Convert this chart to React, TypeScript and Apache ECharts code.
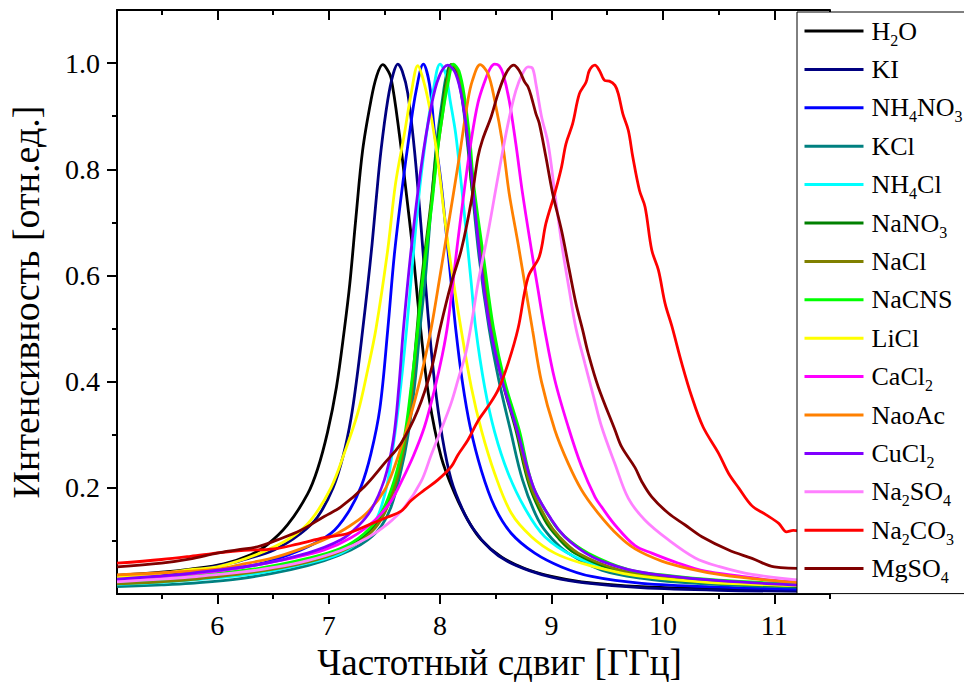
import React, { useEffect, useRef } from 'react';
import * as echarts from 'echarts';

const FONT = 'Liberation Serif';

const seriesNames = ['H2O', 'KI', 'NH4NO3', 'KCl', 'NH4Cl', 'NaNO3', 'NaCl', 'NaCNS', 'LiCl', 'CaCl2', 'NaoAc', 'CuCl2', 'Na2SO4', 'Na2CO3', 'MgSO4'];
const seriesColors = ['#000000', '#000080', '#0000FF', '#008080', '#00FFFF', '#008000', '#808000', '#00FF00', '#FFFF00', '#FF00FF', '#FF8000', '#8000FF', '#FF80FF', '#FF0000', '#800000'];

const xMajorTicks = [6, 7, 8, 9, 10, 11];
const xMinorTicks = [5.5, 6.5, 7.5, 8.5, 9.5, 10.5, 11.5];
const yMajorTicks = [0.2, 0.4, 0.6, 0.8, 1.0];
const yMinorTicks = [0.1, 0.3, 0.5, 0.7, 0.9];

const h2oData = [[5.1,0.035],[5.5,0.041],[5.76,0.047],[6.06,0.057],[6.3,0.074],[6.45,0.093],[6.63,0.13],[6.81,0.188],[6.9,0.235],[6.99,0.305],[7.07,0.39],[7.14,0.497],[7.19,0.585],[7.245,0.71],[7.305,0.836],[7.38,0.93],[7.43,0.975],[7.485,0.997],[7.52,0.99],[7.56,0.972],[7.634,0.867],[7.694,0.76],[7.755,0.648],[7.82,0.51],[7.9,0.37],[8.01,0.258],[8.13,0.19],[8.25,0.139],[8.37,0.102],[8.55,0.07],[8.76,0.048],[9.0,0.033],[9.27,0.023],[9.81,0.014],[10.5,0.01],[11.3,0.007]];
const kiData = [[5.1,0.03],[5.5,0.037],[5.76,0.044],[6.0,0.053],[6.21,0.063],[6.51,0.083],[6.75,0.114],[6.9,0.145],[7.04,0.2],[7.13,0.26],[7.2,0.33],[7.255,0.41],[7.305,0.497],[7.35,0.58],[7.39,0.66],[7.425,0.74],[7.47,0.836],[7.53,0.93],[7.58,0.98],[7.62,0.998],[7.66,0.985],[7.71,0.943],[7.77,0.836],[7.83,0.69],[7.89,0.53],[7.95,0.4],[8.02,0.295],[8.1,0.215],[8.2,0.16],[8.3,0.122],[8.45,0.085],[8.6,0.062],[8.8,0.044],[9.0,0.032],[9.3,0.021],[9.8,0.012],[10.5,0.007],[11.3,0.005]];
const nh4no3Data = [[5.1,0.027],[5.5,0.032],[5.76,0.038],[6.36,0.056],[6.75,0.083],[7.02,0.114],[7.17,0.152],[7.29,0.202],[7.38,0.265],[7.46,0.35],[7.53,0.497],[7.59,0.64],[7.665,0.773],[7.725,0.867],[7.785,0.948],[7.85,0.998],[7.905,0.96],[7.95,0.87],[8.01,0.773],[8.055,0.68],[8.1,0.585],[8.14,0.5],[8.2,0.4],[8.27,0.315],[8.37,0.233],[8.49,0.164],[8.64,0.114],[8.85,0.077],[9.09,0.051],[9.36,0.033],[9.81,0.02],[10.5,0.013],[11.3,0.009]];
const kclData = [[5.1,0.014],[5.5,0.017],[5.76,0.02],[6.21,0.029],[6.66,0.046],[6.96,0.063],[7.2,0.083],[7.35,0.102],[7.47,0.127],[7.56,0.164],[7.65,0.233],[7.71,0.296],[7.77,0.39],[7.82,0.5],[7.87,0.6],[7.92,0.73],[7.97,0.85],[8.02,0.93],[8.06,0.98],[8.1,0.997],[8.15,0.98],[8.2,0.93],[8.27,0.8],[8.35,0.635],[8.44,0.5],[8.53,0.4],[8.63,0.31],[8.74,0.215],[8.88,0.14],[9.0,0.105],[9.15,0.077],[9.45,0.045],[9.8,0.03],[10.3,0.02],[11.3,0.012]];
const nh4clData = [[5.1,0.018],[5.5,0.022],[5.76,0.026],[6.36,0.039],[6.81,0.058],[7.11,0.077],[7.32,0.108],[7.44,0.146],[7.52,0.202],[7.57,0.265],[7.63,0.36],[7.7,0.5],[7.76,0.64],[7.82,0.77],[7.88,0.87],[7.94,0.95],[8.0,0.998],[8.05,0.98],[8.09,0.93],[8.14,0.867],[8.19,0.773],[8.235,0.68],[8.28,0.585],[8.32,0.5],[8.4,0.39],[8.49,0.305],[8.61,0.228],[8.76,0.162],[8.94,0.108],[9.21,0.07],[9.51,0.048],[9.81,0.036],[10.3,0.025],[11.3,0.016]];
const nano3Data = [[5.1,0.021],[5.5,0.025],[5.76,0.029],[6.36,0.044],[6.81,0.062],[7.11,0.082],[7.32,0.108],[7.47,0.145],[7.59,0.205],[7.68,0.285],[7.74,0.38],[7.79,0.49],[7.83,0.585],[7.92,0.74],[7.97,0.84],[8.01,0.9],[8.05,0.96],[8.1,0.997],[8.15,0.985],[8.2,0.935],[8.25,0.85],[8.28,0.775],[8.37,0.635],[8.46,0.5],[8.56,0.4],[8.68,0.309],[8.8,0.205],[8.94,0.139],[9.05,0.108],[9.21,0.077],[9.57,0.045],[9.9,0.032],[10.4,0.022],[11.3,0.014]];
const naclData = [[5.1,0.019],[5.5,0.023],[5.76,0.027],[6.36,0.042],[6.81,0.06],[7.11,0.08],[7.32,0.105],[7.47,0.14],[7.59,0.2],[7.68,0.28],[7.745,0.38],[7.795,0.49],[7.84,0.585],[7.925,0.74],[7.98,0.84],[8.02,0.9],[8.06,0.96],[8.11,0.997],[8.16,0.985],[8.21,0.935],[8.26,0.85],[8.29,0.775],[8.38,0.635],[8.465,0.5],[8.57,0.4],[8.69,0.309],[8.81,0.205],[8.96,0.139],[9.07,0.108],[9.24,0.077],[9.6,0.046],[9.95,0.033],[10.4,0.023],[11.3,0.015]];
const nacnsData = [[5.1,0.024],[5.5,0.028],[5.76,0.033],[6.36,0.048],[6.81,0.067],[7.11,0.086],[7.32,0.114],[7.47,0.152],[7.59,0.215],[7.68,0.296],[7.74,0.39],[7.8,0.5],[7.84,0.585],[7.93,0.74],[7.98,0.84],[8.02,0.9],[8.07,0.96],[8.12,0.998],[8.17,0.985],[8.22,0.935],[8.27,0.85],[8.3,0.775],[8.39,0.635],[8.48,0.5],[8.58,0.4],[8.71,0.309],[8.83,0.205],[9.0,0.139],[9.12,0.108],[9.33,0.077],[9.69,0.046],[10.0,0.036],[10.5,0.026],[11.3,0.018]];
const liclData = [[5.1,0.031],[5.5,0.039],[5.76,0.046],[6.0,0.051],[6.36,0.075],[6.66,0.106],[6.84,0.139],[7.02,0.2],[7.14,0.265],[7.26,0.34],[7.35,0.422],[7.425,0.5],[7.53,0.648],[7.6,0.773],[7.68,0.867],[7.74,0.942],[7.8,0.995],[7.86,0.96],[7.92,0.9],[7.98,0.817],[8.04,0.71],[8.1,0.616],[8.19,0.497],[8.28,0.39],[8.37,0.309],[8.49,0.227],[8.64,0.152],[8.82,0.108],[9.03,0.077],[9.27,0.058],[9.57,0.042],[9.81,0.033],[10.4,0.022],[11.3,0.015]];
const cacl2Data = [[5.1,0.026],[5.5,0.033],[5.76,0.038],[6.06,0.045],[6.36,0.055],[6.66,0.067],[6.96,0.083],[7.2,0.106],[7.41,0.138],[7.56,0.175],[7.66,0.215],[7.76,0.26],[7.86,0.315],[7.95,0.385],[8.02,0.45],[8.07,0.51],[8.16,0.666],[8.22,0.765],[8.28,0.855],[8.34,0.925],[8.4,0.965],[8.45,0.99],[8.49,0.998],[8.53,0.995],[8.565,0.98],[8.62,0.93],[8.68,0.848],[8.74,0.755],[8.82,0.648],[8.88,0.572],[8.94,0.497],[9.03,0.403],[9.15,0.315],[9.27,0.24],[9.39,0.183],[9.45,0.164],[9.57,0.13],[9.75,0.091],[9.9,0.077],[10.14,0.058],[10.38,0.043],[10.68,0.034],[10.98,0.026],[11.3,0.021]];
const naoacData = [[5.1,0.036],[5.5,0.04],[6.0,0.047],[6.2,0.055],[6.5,0.068],[6.75,0.085],[7.0,0.106],[7.15,0.123],[7.33,0.15],[7.5,0.195],[7.6,0.245],[7.7,0.31],[7.78,0.37],[7.85,0.43],[7.92,0.5],[8.0,0.6],[8.07,0.69],[8.17,0.82],[8.25,0.93],[8.29,0.967],[8.36,0.997],[8.43,0.98],[8.49,0.93],[8.56,0.85],[8.62,0.755],[8.7,0.66],[8.77,0.572],[8.83,0.497],[8.91,0.4],[9.03,0.309],[9.15,0.246],[9.27,0.196],[9.42,0.152],[9.6,0.11],[9.75,0.085],[9.99,0.062],[10.23,0.048],[10.53,0.036],[10.89,0.027],[11.3,0.02]];
const cucl2Data = [[5.1,0.028],[5.5,0.034],[5.76,0.039],[6.36,0.055],[6.81,0.077],[7.11,0.102],[7.26,0.127],[7.38,0.158],[7.5,0.215],[7.58,0.29],[7.63,0.39],[7.67,0.497],[7.74,0.648],[7.83,0.804],[7.92,0.918],[7.99,0.974],[8.07,0.996],[8.14,0.98],[8.2,0.93],[8.26,0.836],[8.32,0.71],[8.38,0.597],[8.45,0.5],[8.56,0.4],[8.69,0.31],[8.84,0.2],[9.0,0.14],[9.12,0.108],[9.3,0.078],[9.45,0.062],[9.69,0.046],[10.0,0.035],[10.5,0.025],[11.3,0.016]];
const na2so4Data = [[5.1,0.023],[5.5,0.028],[5.76,0.032],[6.21,0.041],[6.51,0.05],[6.81,0.063],[7.11,0.082],[7.35,0.106],[7.53,0.132],[7.68,0.163],[7.83,0.212],[7.92,0.262],[8.01,0.31],[8.1,0.36],[8.17,0.41],[8.23,0.453],[8.29,0.52],[8.34,0.585],[8.43,0.68],[8.52,0.786],[8.61,0.886],[8.68,0.948],[8.74,0.98],[8.79,0.993],[8.83,0.99],[8.86,0.961],[8.91,0.9],[8.97,0.848],[9.03,0.755],[9.1,0.648],[9.16,0.572],[9.22,0.5],[9.3,0.434],[9.38,0.37],[9.45,0.315],[9.57,0.245],[9.69,0.18],[9.84,0.139],[10.05,0.102],[10.29,0.068],[10.5,0.052],[10.8,0.037],[11.3,0.025]];
const na2co3Data = [[5.1,0.058],[5.5,0.065],[5.76,0.071],[6.03,0.078],[6.24,0.082],[6.51,0.085],[6.72,0.094],[6.96,0.106],[7.17,0.114],[7.38,0.132],[7.53,0.145],[7.65,0.156],[7.74,0.176],[7.86,0.196],[7.98,0.215],[8.1,0.24],[8.16,0.262],[8.25,0.29],[8.34,0.326],[8.43,0.353],[8.52,0.384],[8.61,0.434],[8.7,0.5],[8.79,0.597],[8.89,0.635],[8.95,0.698],[9.03,0.755],[9.09,0.804],[9.13,0.848],[9.19,0.886],[9.25,0.942],[9.31,0.964],[9.34,0.986],[9.39,0.996],[9.43,0.986],[9.48,0.967],[9.52,0.966],[9.57,0.958],[9.6,0.942],[9.64,0.905],[9.69,0.873],[9.73,0.823],[9.79,0.76],[9.84,0.729],[9.9,0.648],[9.96,0.61],[10.02,0.547],[10.08,0.505],[10.17,0.434],[10.26,0.371],[10.36,0.315],[10.5,0.265],[10.59,0.227],[10.68,0.2],[10.8,0.166],[10.92,0.15],[11.04,0.133],[11.11,0.117],[11.17,0.12],[11.3,0.112]];
const mgso4Data = [[5.1,0.051],[5.5,0.058],[5.76,0.066],[6.0,0.077],[6.18,0.083],[6.36,0.089],[6.54,0.102],[6.75,0.12],[6.96,0.146],[7.11,0.164],[7.32,0.202],[7.5,0.246],[7.65,0.284],[7.8,0.346],[7.92,0.422],[8.0,0.5],[8.1,0.585],[8.19,0.648],[8.28,0.74],[8.34,0.823],[8.38,0.855],[8.46,0.9],[8.52,0.942],[8.59,0.98],[8.66,0.996],[8.71,0.986],[8.76,0.964],[8.79,0.955],[8.82,0.936],[8.86,0.905],[8.89,0.887],[8.95,0.823],[9.01,0.755],[9.09,0.685],[9.16,0.61],[9.22,0.547],[9.28,0.497],[9.33,0.453],[9.42,0.39],[9.57,0.309],[9.63,0.277],[9.75,0.238],[9.81,0.212],[9.9,0.183],[10.05,0.152],[10.2,0.13],[10.35,0.108],[10.59,0.083],[10.8,0.067],[11.0,0.051],[11.3,0.048]];

const seriesData = [h2oData, kiData, nh4no3Data, kclData, nh4clData, nano3Data, naclData, nacnsData, liclData, cacl2Data, naoacData, cucl2Data, na2so4Data, na2co3Data, mgso4Data];

const X_MIN = 5.1;
const X_MAX = 11.5;
const Y_MIN = 0;
const Y_MAX = 1.1;

const gridRect = { left: 117, right: 134, top: 10, bottom: 88 };

export default function App() {
  const ref = useRef<HTMLDivElement>(null);

  useEffect(() => {
    if (!ref.current) return;
    const chart = echarts.init(ref.current, undefined, { renderer: 'svg' });
    const axisLine = { show: true, lineStyle: { color: '#000', width: 2 } };
    const tickStyle = { color: '#000', width: 2 };

    const option: any = {
      animation: false,
      backgroundColor: '#fff',
      textStyle: { fontFamily: FONT },
      grid: [
        { ...gridRect, containLabel: false, outerBoundsMode: 'none' },
        { ...gridRect, containLabel: false, outerBoundsMode: 'none' },
      ],
      legend: {
        orient: 'vertical',
        left: 797,
        top: 12,
        itemWidth: 59,
        itemHeight: 2,
        itemGap: 4.4,
        padding: [2, 70, 8, 6],
        backgroundColor: '#fff',
        borderColor: '#000',
        borderWidth: 1,
        selectedMode: false,
        z: 10,
        itemStyle: { opacity: 0 },
        lineStyle: { width: 3 },
        data: seriesNames,
        formatter: (name: string) => name.replace(/(\d)/g, '{s|$1}'),
        textStyle: {
          fontFamily: FONT,
          fontSize: 26,
          color: '#000',
          lineHeight: 34,
          padding: [0, 0, 0, 3],
          rich: {
            s: { fontFamily: FONT, fontSize: 16, lineHeight: 10, verticalAlign: 'bottom', color: '#000' },
          },
        },
      },
      xAxis: [
        {
          type: 'value', gridIndex: 0, position: 'bottom', min: X_MIN, max: X_MAX,
          name: 'Частотный сдвиг [ГГц]', nameLocation: 'middle', nameGap: 47,
          nameTextStyle: { fontFamily: FONT, fontSize: 37, lineHeight: 37, color: '#000', padding: [0, 0, 0, 52] },
          axisLine,
          axisTick: { show: true, length: 10, lineStyle: tickStyle, customValues: xMajorTicks },
          axisLabel: { show: true, fontFamily: FONT, fontSize: 28, color: '#000', margin: 17, customValues: xMajorTicks, formatter: (v: number) => String(v) },
          splitLine: { show: false },
        },
        {
          type: 'value', gridIndex: 0, position: 'top', min: X_MIN, max: X_MAX,
          axisLine,
          axisTick: { show: true, inside: true, length: 10, lineStyle: tickStyle, customValues: xMajorTicks },
          axisLabel: { show: false },
          splitLine: { show: false },
        },
        {
          type: 'value', gridIndex: 1, position: 'bottom', min: X_MIN, max: X_MAX,
          axisLine: { show: false },
          axisTick: { show: true, length: 5, lineStyle: tickStyle, customValues: xMinorTicks },
          axisLabel: { show: false },
          splitLine: { show: false },
        },
        {
          type: 'value', gridIndex: 1, position: 'top', min: X_MIN, max: X_MAX,
          axisLine: { show: false },
          axisTick: { show: true, inside: true, length: 5, lineStyle: tickStyle, customValues: xMinorTicks },
          axisLabel: { show: false },
          splitLine: { show: false },
        },
      ],
      yAxis: [
        {
          type: 'value', gridIndex: 0, position: 'left', min: Y_MIN, max: Y_MAX,
          name: 'Интенсивность [отн.ед.]', nameLocation: 'middle', nameGap: 72,
          nameTextStyle: { fontFamily: FONT, fontSize: 38, color: '#000' },
          axisLine,
          axisTick: { show: true, length: 10, lineStyle: tickStyle, customValues: yMajorTicks },
          axisLabel: { show: true, fontFamily: FONT, fontSize: 28, color: '#000', margin: 17, customValues: yMajorTicks, formatter: (v: number) => v.toFixed(1) },
          splitLine: { show: false },
        },
        {
          type: 'value', gridIndex: 1, position: 'left', min: Y_MIN, max: Y_MAX,
          axisLine: { show: false },
          axisTick: { show: true, length: 5, lineStyle: tickStyle, customValues: yMinorTicks },
          axisLabel: { show: false },
          splitLine: { show: false },
        },
      ],
      series: seriesNames.map((name, i) => ({
        type: 'line',
        name,
        xAxisIndex: 0,
        yAxisIndex: 0,
        data: seriesData[i],
        showSymbol: false,
        symbol: 'none',
        smooth: 0.35,
        lineStyle: { width: 2.8, color: seriesColors[i] },
        itemStyle: { color: seriesColors[i] },
        emphasis: { disabled: true },
        z: 2,
      })),
    };
    chart.setOption(option);
    return () => chart.dispose();
  }, []);

  return (
    <div
      ref={ref}
      style={{ position: 'absolute', left: 0, top: 0, width: 964, height: 682, background: '#fff' }}
    />
  );
}
